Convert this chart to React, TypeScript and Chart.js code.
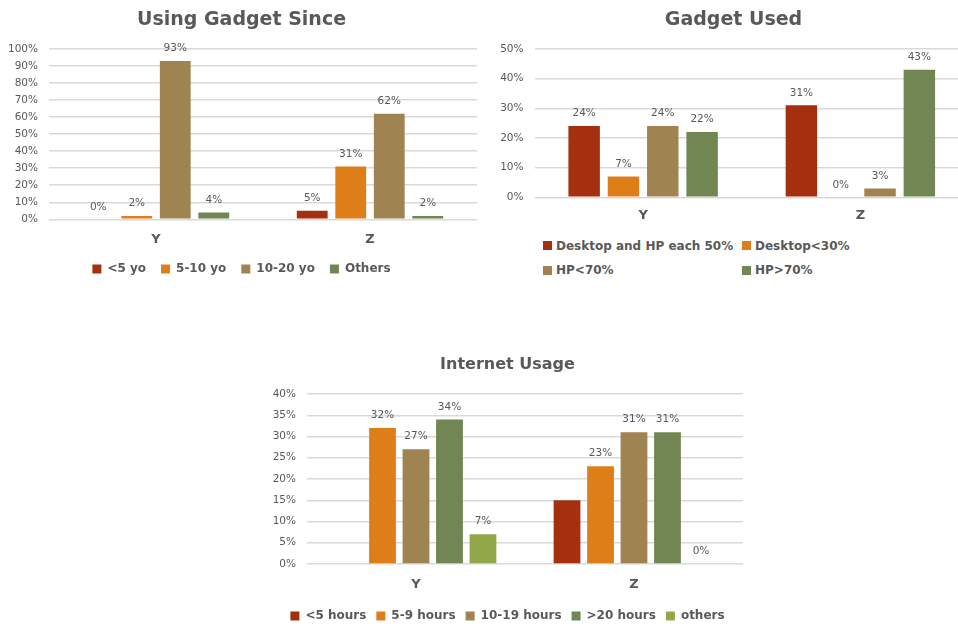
import React, { useEffect, useRef } from "react";
import { Chart, registerables } from "chart.js";

Chart.register(...registerables);

const FONT = "'DejaVu Sans', sans-serif";
const GREY = "#595959";
const GRID = "#d9d9d9";

const RED = "#a5300f";
const ORANGE = "#de7e18";
const TAN = "#9f8351";
const GREEN = "#728653";
const LIME = "#92a848";

// ---- data ----
const categories = ["Y", "Z"];

const sinceLabels = ["<5 yo", "5-10 yo", "10-20 yo", "Others"];
const sinceUnder5 = [0, 5];
const since5to10 = [2, 31];
const since10to20 = [93, 62];
const sinceOthers = [4, 2];

const usedLabels = ["Desktop and HP each 50%", "Desktop<30%", "HP<70%", "HP>70%"];
const usedEqual = [24, 31];
const usedDesktopUnder30 = [7, 0];
const usedHpUnder70 = [24, 3];
const usedHpOver70 = [22, 43];

const usageLabels = ["<5 hours", "5-9 hours", "10-19 hours", ">20 hours", "others"];
const usageUnder5 = [null, 15];
const usage5to9 = [32, 23];
const usage10to19 = [27, 31];
const usageOver20 = [34, 31];
const usageOthers = [7, 0];

const sinceTicks = { max: 100, step: 10 };
const usedTicks = { max: 50, step: 10 };
const usageTicks = { max: 40, step: 5 };

// ---- value label plugin ----
const valueLabels = {
  id: "valueLabels",
  afterDatasetsDraw(chart: any) {
    const ctx = chart.ctx;
    ctx.save();
    ctx.font = `10.5px ${FONT}`;
    ctx.fillStyle = GREY;
    ctx.textAlign = "center";
    ctx.textBaseline = "middle";
    chart.data.datasets.forEach((ds: any, i: number) => {
      if (ds.showValues === false) return;
      const meta = chart.getDatasetMeta(i);
      meta.data.forEach((el: any, j: number) => {
        const v = ds.data[j];
        if (v == null) return;
        ctx.fillText(Math.round(v) + "%", el.x, el.y - 12.5);
      });
    });
    ctx.restore();
  },
};

type Cfg = {
  title: string;
  titleSize: number;
  titlePad: { top: number; bottom: number };
  datasets: any[];
  ticks: { max: number; step: number };
  yWidth: number;
  xHeight: number;
  xPad: number;
  legend: boolean;
  legendPad: number;
  catPct: number;
  barPct: number;
};

function makeChart(canvas: HTMLCanvasElement, c: Cfg) {
  return new Chart(canvas, {
    type: "bar",
    data: {
      labels: categories,
      datasets: c.datasets.map((d) => ({
        ...d,
        borderWidth: 0,
        categoryPercentage: c.catPct,
        barPercentage: c.barPct,
      })),
    },
    options: {
      responsive: false,
      animation: false,
      devicePixelRatio: 1,
      layout: { padding: 0 },
      plugins: {
        title: {
          display: true,
          text: c.title,
          color: GREY,
          font: { family: FONT, size: c.titleSize, weight: "bold" },
          padding: c.titlePad,
        },
        legend: {
          display: c.legend,
          position: "bottom",
          labels: {
            boxWidth: 9,
            boxHeight: 9,
            padding: c.legendPad,
            color: GREY,
            font: { family: FONT, size: 12, weight: "bold" },
          },
        },
        tooltip: { enabled: false },
      },
      scales: {
        x: {
          grid: { display: false, drawTicks: false },
          border: { display: false },
          ticks: {
            color: GREY,
            padding: c.xPad,
            font: { family: FONT, size: 13, weight: "bold" },
          },
          afterFit: (s: any) => {
            s.height = c.xHeight;
          },
        },
        y: {
          min: 0,
          max: c.ticks.max,
          grid: { color: GRID, lineWidth: 1.5, drawTicks: false },
          border: { display: false },
          ticks: {
            stepSize: c.ticks.step,
            padding: 11,
            color: GREY,
            font: { family: FONT, size: 10.5 },
            callback: (v: any) => v + "%",
          },
          afterFit: (s: any) => {
            s.width = c.yWidth;
          },
        },
      },
    },
    plugins: [valueLabels],
  } as any);
}

const usedColors = [RED, ORANGE, TAN, GREEN];

export default function App() {
  const r1 = useRef<HTMLCanvasElement>(null);
  const r2 = useRef<HTMLCanvasElement>(null);
  const r3 = useRef<HTMLCanvasElement>(null);

  useEffect(() => {
    const c1 = makeChart(r1.current!, {
      title: "Using Gadget Since",
      titleSize: 19,
      titlePad: { top: 9, bottom: 17.2 },
      datasets: [
        { label: sinceLabels[0], data: sinceUnder5, backgroundColor: RED },
        { label: sinceLabels[1], data: since5to10, backgroundColor: ORANGE },
        { label: sinceLabels[2], data: since10to20, backgroundColor: TAN },
        { label: sinceLabels[3], data: sinceOthers, backgroundColor: GREEN },
      ],
      ticks: sinceTicks,
      yWidth: 43,
      xHeight: 28.7,
      xPad: 12.5,
      legend: true,
      legendPad: 15,
      catPct: 0.72,
      barPct: 0.8,
    });
    const c2 = makeChart(r2.current!, {
      title: "Gadget Used",
      titleSize: 19,
      titlePad: { top: 9, bottom: 17.2 },
      datasets: [
        { label: usedLabels[0], data: usedEqual, backgroundColor: RED },
        { label: usedLabels[1], data: usedDesktopUnder30, backgroundColor: ORANGE },
        { label: usedLabels[2], data: usedHpUnder70, backgroundColor: TAN },
        { label: usedLabels[3], data: usedHpOver70, backgroundColor: GREEN },
      ],
      ticks: usedTicks,
      yWidth: 36.5,
      xHeight: 32.7,
      xPad: 11,
      legend: false,
      legendPad: 10,
      catPct: 0.724,
      barPct: 0.8,
    });
    const c3 = makeChart(r3.current!, {
      title: "Internet Usage",
      titleSize: 16,
      titlePad: { top: 15.4, bottom: 19.4 },
      datasets: [
        { label: usageLabels[0], data: usageUnder5, backgroundColor: RED, showValues: false },
        { label: usageLabels[1], data: usage5to9, backgroundColor: ORANGE },
        { label: usageLabels[2], data: usage10to19, backgroundColor: TAN },
        { label: usageLabels[3], data: usageOver20, backgroundColor: GREEN },
        { label: usageLabels[4], data: usageOthers, backgroundColor: LIME },
      ],
      ticks: usageTicks,
      yWidth: 35,
      xHeight: 36,
      xPad: 13.2,
      legend: true,
      legendPad: 10,
      catPct: 0.768,
      barPct: 0.8,
    });
    return () => {
      c1.destroy();
      c2.destroy();
      c3.destroy();
    };
  }, []);

  const legendItem = (i: number, left: number, top: number) => (
    <div
      key={i}
      style={{
        position: "absolute",
        left,
        top,
        height: 14,
        display: "flex",
        alignItems: "center",
        whiteSpace: "nowrap",
        fontFamily: FONT,
        fontWeight: "bold",
        fontSize: 12,
        color: GREY,
      }}
    >
      <span style={{ display: "inline-block", width: 9, height: 9, background: usedColors[i], marginRight: 4 }} />
      <span>{usedLabels[i]}</span>
    </div>
  );

  const abs = (left: number, top: number, w: number, h: number) => ({
    position: "absolute" as const,
    left,
    top,
    width: w,
    height: h,
    display: "block",
  });

  return (
    <div
      style={{
        position: "fixed",
        left: 0,
        top: 0,
        width: 958,
        height: 628,
        overflow: "hidden",
        background: "#fff",
      }}
    >
      <canvas ref={r1} width={471} height={285} style={abs(6, 0, 471, 285)} />
      <canvas ref={r2} width={471} height={230} style={abs(498, 0, 471, 230)} />
      {legendItem(0, 543, 238.5)}
      {legendItem(1, 742, 238.5)}
      {legendItem(2, 543, 263)}
      {legendItem(3, 742, 263)}
      <canvas ref={r3} width={471} height={292} style={abs(272, 340, 471, 292)} />
    </div>
  );
}
